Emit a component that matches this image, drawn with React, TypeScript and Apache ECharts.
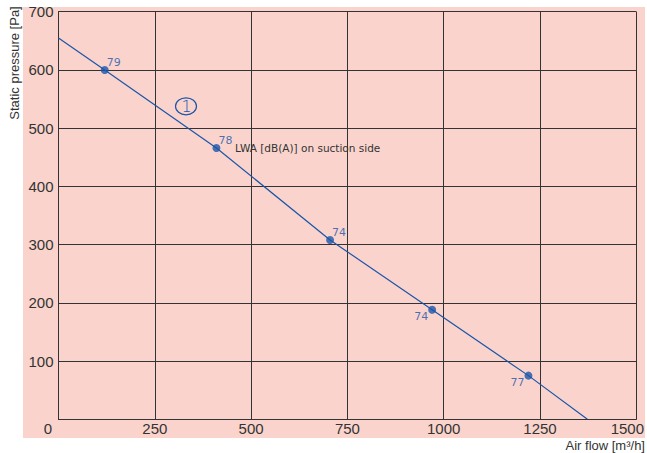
import React, { useEffect, useRef } from "react";
import * as echarts from "echarts";

const curveFlow = [0, 120, 410, 705, 970, 1220, 1373];
const curvePressure = [655, 600, 466, 308, 188, 75, 0];
const pointFlow = [120, 410, 705, 970, 1220];
const pointPressure = [600, 466, 308, 188, 75];
const pointLabels = ["79", "78", "74", "74", "77"];
const pointLabelSide = ["above", "above", "above", "below", "below"];
const xTicks = [0, 250, 500, 750, 1000, 1250, 1500];
const yTicks = [0, 100, 200, 300, 400, 500, 600, 700];

const BLUE = "#1a55aa";
const TEXT = "#333333";
const GRID = "#333333";

export default function App() {
  const ref = useRef<HTMLDivElement>(null);
  useEffect(() => {
    document.body.style.margin = "0";
    const chart = echarts.init(ref.current!, undefined, { renderer: "svg" });
    const pts = pointFlow.map((x, i) => {
      const above = pointLabelSide[i] === "above";
      return {
        value: [x, pointPressure[i]],
        label: {
          show: true,
          formatter: pointLabels[i],
          position: above ? "right" : "left",
          distance: 0,
          offset: above ? [-2, -7] : [0, 7],
        },
      };
    });
    chart.setOption({
      animation: false,
      backgroundColor: "#ffffff",
      grid: { left: 58.5, right: 9, top: 11.7, bottom: 33.7, containLabel: false },
      xAxis: {
        type: "value",
        min: xTicks[0],
        max: xTicks[xTicks.length - 1],
        interval: 250,
        axisLine: { show: true, lineStyle: { color: GRID, width: 1 } },
        axisTick: { show: false },
        splitLine: { show: true, lineStyle: { color: GRID, width: 1 } },
        axisLabel: {
          color: TEXT,
          fontFamily: "Liberation Sans",
          fontSize: 15,
          margin: 2,
          formatter: (v: number) =>
            v === 0 ? "{l|0}" : v === 1500 ? "{r|1500}" : String(v),
          rich: {
            l: { fontFamily: "Liberation Sans", fontSize: 15, color: TEXT, padding: [0, 21, 0, 0] },
            r: { fontFamily: "Liberation Sans", fontSize: 15, color: TEXT, padding: [0, 18, 0, 0] },
          },
        },
      },
      yAxis: {
        type: "value",
        min: yTicks[0],
        max: yTicks[yTicks.length - 1],
        interval: 100,
        axisLine: { show: true, lineStyle: { color: GRID, width: 1 } },
        axisTick: { show: false },
        splitLine: { show: true, lineStyle: { color: GRID, width: 1 } },
        axisLabel: {
          color: TEXT,
          fontFamily: "Liberation Sans",
          fontSize: 15,
          margin: 5,
          formatter: (v: number) => (v === 0 ? "" : String(v)),
        },
      },
      graphic: [
        {
          type: "rect",
          z: -10,
          shape: { x: 23, y: 7, width: 622, height: 431 },
          style: { fill: "#fad4cc" },
          silent: true,
        },
        {
          type: "text",
          x: 14,
          y: 63,
          rotation: Math.PI / 2,
          style: {
            text: "Static pressure [Pa]",
            fill: TEXT,
            font: "13px 'Liberation Sans'",
            textAlign: "center",
            textVerticalAlign: "middle",
          },
        },
        {
          type: "text",
          x: 645,
          y: 445,
          style: {
            text: "Air flow [m³/h]",
            fill: TEXT,
            font: "13px 'Liberation Sans'",
            textAlign: "right",
            textVerticalAlign: "middle",
          },
        },
        {
          type: "text",
          x: 235,
          y: 148.3,
          style: {
            text: "LWA [dB(A)] on suction side",
            fill: TEXT,
            font: "10.5px 'DejaVu Sans'",
            textAlign: "left",
            textVerticalAlign: "middle",
          },
        },
        {
          type: "ellipse",
          shape: { cx: 186, cy: 106.3, rx: 10.5, ry: 8.5 },
          style: { fill: "none", stroke: BLUE, lineWidth: 1.2 },
        },
        {
          type: "text",
          x: 186.5,
          y: 106.8,
          style: {
            text: "1",
            fill: BLUE,
            font: "200 16px 'DejaVu Sans'",
            textAlign: "center",
            textVerticalAlign: "middle",
          },
        },
      ],
      series: [
        {
          type: "line",
          data: curveFlow.map((x, i) => [x, curvePressure[i]]),
          showSymbol: false,
          symbol: "none",
          lineStyle: { color: BLUE, width: 1.2 },
          z: 3,
        },
        {
          type: "scatter",
          data: pts,
          symbol: "circle",
          symbolSize: 8,
          itemStyle: { color: BLUE },
          label: {
            color: BLUE,
            fontFamily: "DejaVu Sans",
            fontSize: 11,
          },
          z: 4,
        },
      ],
    });
    return () => chart.dispose();
  }, []);
  return <div ref={ref} style={{ width: 647, height: 453 }} />;
}
